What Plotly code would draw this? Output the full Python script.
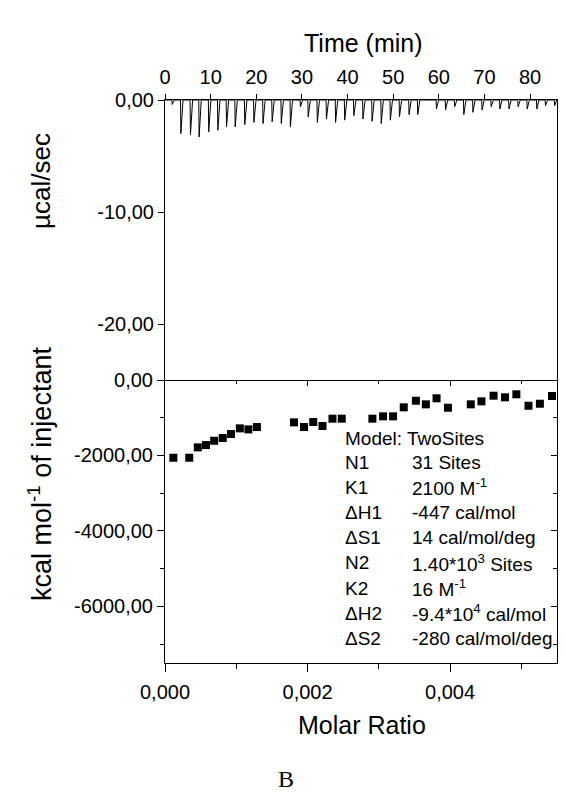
import plotly.graph_objects as go

# ---- raw thermogram: injection times (min) and peak heat rate (µcal/sec)
inj_time = [1.5, 3.4, 5.5, 7.4, 9.5, 11.5, 13.4, 15.3, 17.4, 19.4, 21.4, 23.4, 25.4, 27.4,
            29.6, 31.3, 33.3, 35.3, 37.3, 39.3, 41.3, 43.3, 45.3, 47.3, 49.3, 51.3, 53.4, 55.3,
            59.4, 61.4, 63.4, 65.4, 67.4, 69.4, 71.4, 73.3, 75.3, 77.3, 79.3, 81.4, 83.3, 85.3]
inj_peak = [-0.4, -3.0, -3.1, -3.3, -2.85, -2.7, -2.4, -2.4, -2.2, -2.0, -2.1, -1.95, -2.1, -2.4,
            -0.6, -1.5, -2.0, -1.7, -2.0, -1.8, -1.4, -1.7, -1.9, -2.1, -1.8, -1.5, -1.3, -1.3,
            -0.8, -0.9, -0.6, -1.3, -1.1, -0.9, -0.6, -0.8, -0.8, -0.6, -0.8, -0.8, -0.5, -0.5]

# ---- integrated heats vs molar ratio
molar_ratio = [0.000117, 0.00034, 0.00046, 0.000575, 0.00069, 0.00081, 0.000926, 0.00105,
               0.00117, 0.00129, 0.00181, 0.00195, 0.00208, 0.00221, 0.00235, 0.00248,
               0.00291, 0.00306, 0.0032, 0.00335, 0.00352, 0.00366, 0.00381, 0.00397,
               0.00429, 0.00444, 0.00461, 0.00477, 0.00493, 0.0051, 0.00526, 0.00543]
heat = [-2061, -2061, -1786, -1724, -1610, -1538, -1432, -1282,
        -1309, -1247, -1123, -1247, -1114, -1220, -1025, -1025,
        -1025, -963, -963, -724, -549, -645, -485, -735,
        -645, -565, -416, -459, -379, -682, -629, -424]

# ---- axis ticks
time_ticks = [0, 10, 20, 30, 40, 50, 60, 70, 80]
rate_ticks = [0, -10, -20]
rate_labels = ["0,00", "-10,00", "-20,00"]
heat_ticks = [0, -2000, -4000, -6000]
heat_labels = ["0,00", "-2000,00", "-4000,00", "-6000,00"]
heat_minor = [-1000, -3000, -5000, -7000]
ratio_ticks = [0, 0.002, 0.004]
ratio_labels = ["0,000", "0,002", "0,004"]
ratio_minor = [0.001, 0.003, 0.005]

# ---- fit parameters shown in the text block
fit_names = ["N1", "K1", "ΔH1", "ΔS1", "N2", "K2", "ΔH2", "ΔS2"]
fit_values = ["31 Sites", "2100 M<sup>-1</sup>", "-447 cal/mol", "14 cal/mol/deg",
              "1.40*10<sup>3</sup> Sites", "16 M<sup>-1</sup>", "-9.4*10<sup>4</sup> cal/mol",
              "-280 cal/mol/deg"]

W, H = 566, 797
L, R, T, B = 165, 9, 100, 134
PW, PH = W - L - R, H - T - B
split = (PH - 280) / PH  # boundary between the two panels


def px(x):
    return (x - L) / PW


def py(y):
    return (H - B - y) / PH


FONT = "Arial, Liberation Sans, sans-serif"

# build the thermogram line: sharp drop at each injection, then return to baseline
tx, ty = [0.0], [0.0]
for t, p in zip(inj_time, inj_peak):
    tx += [t, t + 0.08, t + 0.55]
    ty += [0.0, p, 0.0]
tx.append(86.0)
ty.append(0.0)

fig = go.Figure()
fig.add_trace(go.Scatter(x=tx, y=ty, mode="lines", line=dict(color="black", width=1),
                         xaxis="x", yaxis="y", hoverinfo="skip", showlegend=False))
fig.add_trace(go.Scatter(x=molar_ratio, y=heat, mode="markers",
                         marker=dict(symbol="square", size=8, color="black"),
                         xaxis="x2", yaxis="y2", showlegend=False))
# invisible copy so the inward-tick frame axes are drawn
fig.add_trace(go.Scatter(x=molar_ratio, y=heat, mode="markers", marker=dict(opacity=0),
                         xaxis="x3", yaxis="y3", hoverinfo="skip", showlegend=False))

tickfont = dict(family=FONT, size=20, color="black")
common = dict(showline=True, linecolor="black", linewidth=1, showgrid=False, zeroline=False,
              tickcolor="black", tickwidth=1, tickfont=tickfont)

fig.update_layout(
    width=W, height=H, margin=dict(l=L, r=R, t=T, b=B),
    paper_bgcolor="white", plot_bgcolor="white",
    xaxis=dict(domain=[0, 1], anchor="y", side="top", range=[0, 85.9],
               tickmode="array", tickvals=time_ticks, ticks="outside", ticklen=5,
               ticklabelstandoff=2, mirror=True, **common),
    yaxis=dict(domain=[split, 1], anchor="x", range=[-25, 0],
               tickmode="array", tickvals=rate_ticks, ticktext=rate_labels,
               ticks="outside", ticklen=6, mirror=True, **common),
    xaxis2=dict(domain=[0, 1], anchor="y2", range=[0, 0.0055],
                tickmode="array", tickvals=ratio_ticks, ticktext=ratio_labels,
                ticks="outside", ticklen=8, ticklabelstandoff=3,
                minor=dict(tickmode="array", tickvals=ratio_minor, ticks="outside",
                           ticklen=5, tickcolor="black", showgrid=False),
                **common),
    yaxis2=dict(domain=[0, split], anchor="x2", range=[-7500, 0],
                tickmode="array", tickvals=heat_ticks, ticktext=heat_labels,
                ticks="outside", ticklen=7,
                minor=dict(tickmode="array", tickvals=heat_minor, ticks="outside",
                           ticklen=4, tickcolor="black", showgrid=False),
                **common),
    xaxis3=dict(overlaying="x2", anchor="y2", side="top", range=[0, 0.0055],
                tickmode="array", tickvals=ratio_ticks, showticklabels=False,
                ticks="inside", ticklen=6,
                minor=dict(tickmode="array", tickvals=ratio_minor, ticks="inside",
                           ticklen=4, tickcolor="black", showgrid=False),
                showline=False, showgrid=False, zeroline=False, tickcolor="black"),
    yaxis3=dict(overlaying="y2", anchor="x2", side="right", range=[-7500, 0],
                tickmode="array", tickvals=heat_ticks, showticklabels=False,
                ticks="inside", ticklen=6,
                minor=dict(tickmode="array", tickvals=heat_minor, ticks="inside",
                           ticklen=4, tickcolor="black", showgrid=False),
                showline=True, linecolor="black", showgrid=False, zeroline=False,
                tickcolor="black"),
)

ann = []


def label(text, x, y, size=25, angle=0, family=FONT, xanchor="center"):
    ann.append(dict(text=text, x=px(x), y=py(y), xref="paper", yref="paper",
                    xanchor=xanchor, yanchor="middle", textangle=angle, showarrow=False,
                    font=dict(family=family, size=size, color="black")))


label("Time (min)", 363, 43)
label("Molar Ratio", 362, 725)
label("µcal/sec", 41, 181, size=26, angle=-90)
label("kcal mol<sup>-1</sup> of injectant", 40, 474, size=27, angle=-90)
label("B", 286, 779, size=24, family="Liberation Serif, Times New Roman, serif")

label("Model: TwoSites", 343, 438, size=19, xanchor="left")
for i, (n, v) in enumerate(zip(fit_names, fit_values)):
    yy = 462 + i * 25.2
    label(n, 343, yy, size=19, xanchor="left")
    label(v, 410, yy, size=19, xanchor="left")

fig.update_layout(annotations=ann)
fig.write_html("out.html")
